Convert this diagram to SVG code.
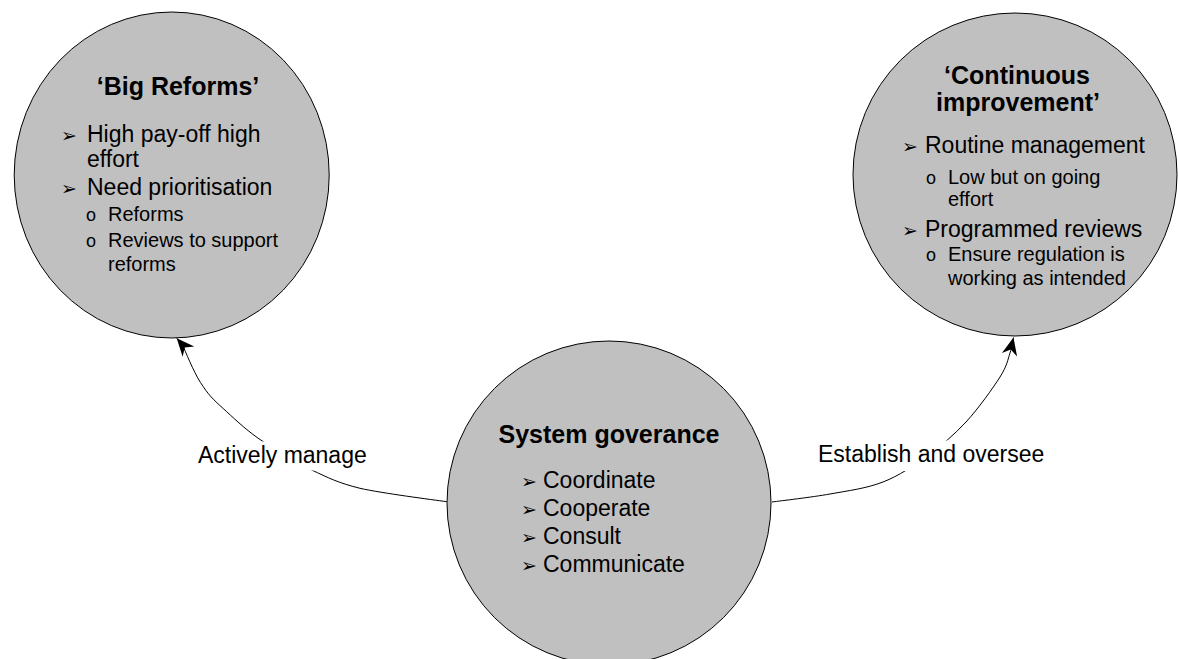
<svg xmlns="http://www.w3.org/2000/svg" width="1178" height="659" viewBox="0 0 1178 659">
<style>
.node{fill:#c0c0c0;stroke:#000;stroke-width:1}
.t{font-family:"Liberation Sans",Arial,sans-serif;fill:#000}
.title{font-size:25px;font-weight:bold}
.b1{font-size:23px}
.b2{font-size:20px}
.lbl{font-size:23px}
.arw{font-family:"DejaVu Sans",sans-serif;font-size:19px;fill:#000}
.sub{font-family:"Liberation Sans",Arial,sans-serif;font-size:18px;fill:#000}
.conn{fill:none;stroke:#000;stroke-width:1}
.bg{fill:#fff}
</style>
<defs>
<marker id="ah" markerUnits="userSpaceOnUse" markerWidth="20" markerHeight="18" viewBox="-17 -8 18 16" refX="0" refY="0" orient="auto">
<path d="M0,0 L-16,-7 L-11,0 L-16,7 Z" fill="#000"/>
</marker>
</defs>
<rect width="1178" height="659" fill="#fff"/>
<g id="connectors">
<path class="conn" marker-end="url(#ah)" d="M446.7,501.7 C432.5,499.7 382.5,493.3 360,488.3 C337.5,482.7 328.2,477.7 311.7,470 C295.8,462.3 277.2,451.7 263.3,441.7 C248.8,432.3 237,421.2 226.7,411.7 C217,402.8 210.2,397.3 203.3,386.7 C195.8,376.7 188.3,358.2 183.3,346.7 C179.7,341.8 178.2,340 176.7,338.3"/>
<path class="conn" marker-end="url(#ah)" d="M772,502 C781.7,500.7 811.5,497.3 830,494 C848.5,490.7 866.8,488.3 883,482 C899.2,475.7 913.2,466 927,456 C940.8,446 953.8,435.2 966,422 C978.2,408.8 992.7,388.5 1000,377 C1007.3,365.5 1007.75,359.6 1010,353 C1012.25,346.4 1012.9,340.1 1013.5,337.5"/>
<g id="label-left">
<rect class="bg" x="196" y="441.5" width="173" height="29"/>
<text class="t lbl" x="198" y="463">Actively manage</text>
</g>
<g id="label-right">
<rect class="bg" x="816" y="440.5" width="229" height="30.5"/>
<text class="t lbl" x="818" y="462">Establish and oversee</text>
</g>
</g>
<g id="big-reforms">
<ellipse class="node" cx="171.7" cy="175" rx="157.5" ry="163"/>
<text class="t title" x="178" y="95" text-anchor="middle">‘Big Reforms’</text>
<text class="arw" x="61" y="142">➢</text>
<text class="t b1" x="87" y="142">High pay-off high</text>
<text class="t b1" x="87" y="167">effort</text>
<text class="arw" x="61" y="195">➢</text>
<text class="t b1" x="87" y="195">Need prioritisation</text>
<text class="sub" x="86" y="221">o</text>
<text class="t b2" x="108" y="221">Reforms</text>
<text class="sub" x="86" y="247">o</text>
<text class="t b2" x="108" y="247">Reviews to support</text>
<text class="t b2" x="108" y="271">reforms</text>
</g>
<g id="continuous-improvement">
<ellipse class="node" cx="1015" cy="174.5" rx="162" ry="161.5"/>
<text class="t title" x="1017" y="84" text-anchor="middle">‘Continuous</text>
<text class="t title" x="1018" y="111" text-anchor="middle">improvement’</text>
<text class="arw" x="902" y="153">➢</text>
<text class="t b1" x="925" y="153">Routine management</text>
<text class="sub" x="926" y="184">o</text>
<text class="t b2" x="948" y="184">Low but on going</text>
<text class="t b2" x="948" y="206">effort</text>
<text class="arw" x="902" y="237">➢</text>
<text class="t b1" x="925" y="237">Programmed reviews</text>
<text class="sub" x="926" y="261">o</text>
<text class="t b2" x="948" y="261">Ensure regulation is</text>
<text class="t b2" x="948" y="285">working as intended</text>
</g>
<g id="system-governance">
<circle class="node" cx="609" cy="503" r="162"/>
<text class="t title" x="609" y="443" text-anchor="middle">System goverance</text>
<text class="arw" x="521" y="488">➢</text>
<text class="t b1" x="543" y="488">Coordinate</text>
<text class="arw" x="521" y="516">➢</text>
<text class="t b1" x="543" y="516">Cooperate</text>
<text class="arw" x="521" y="544">➢</text>
<text class="t b1" x="543" y="544">Consult</text>
<text class="arw" x="521" y="572">➢</text>
<text class="t b1" x="543" y="572">Communicate</text>
</g>
</svg>
